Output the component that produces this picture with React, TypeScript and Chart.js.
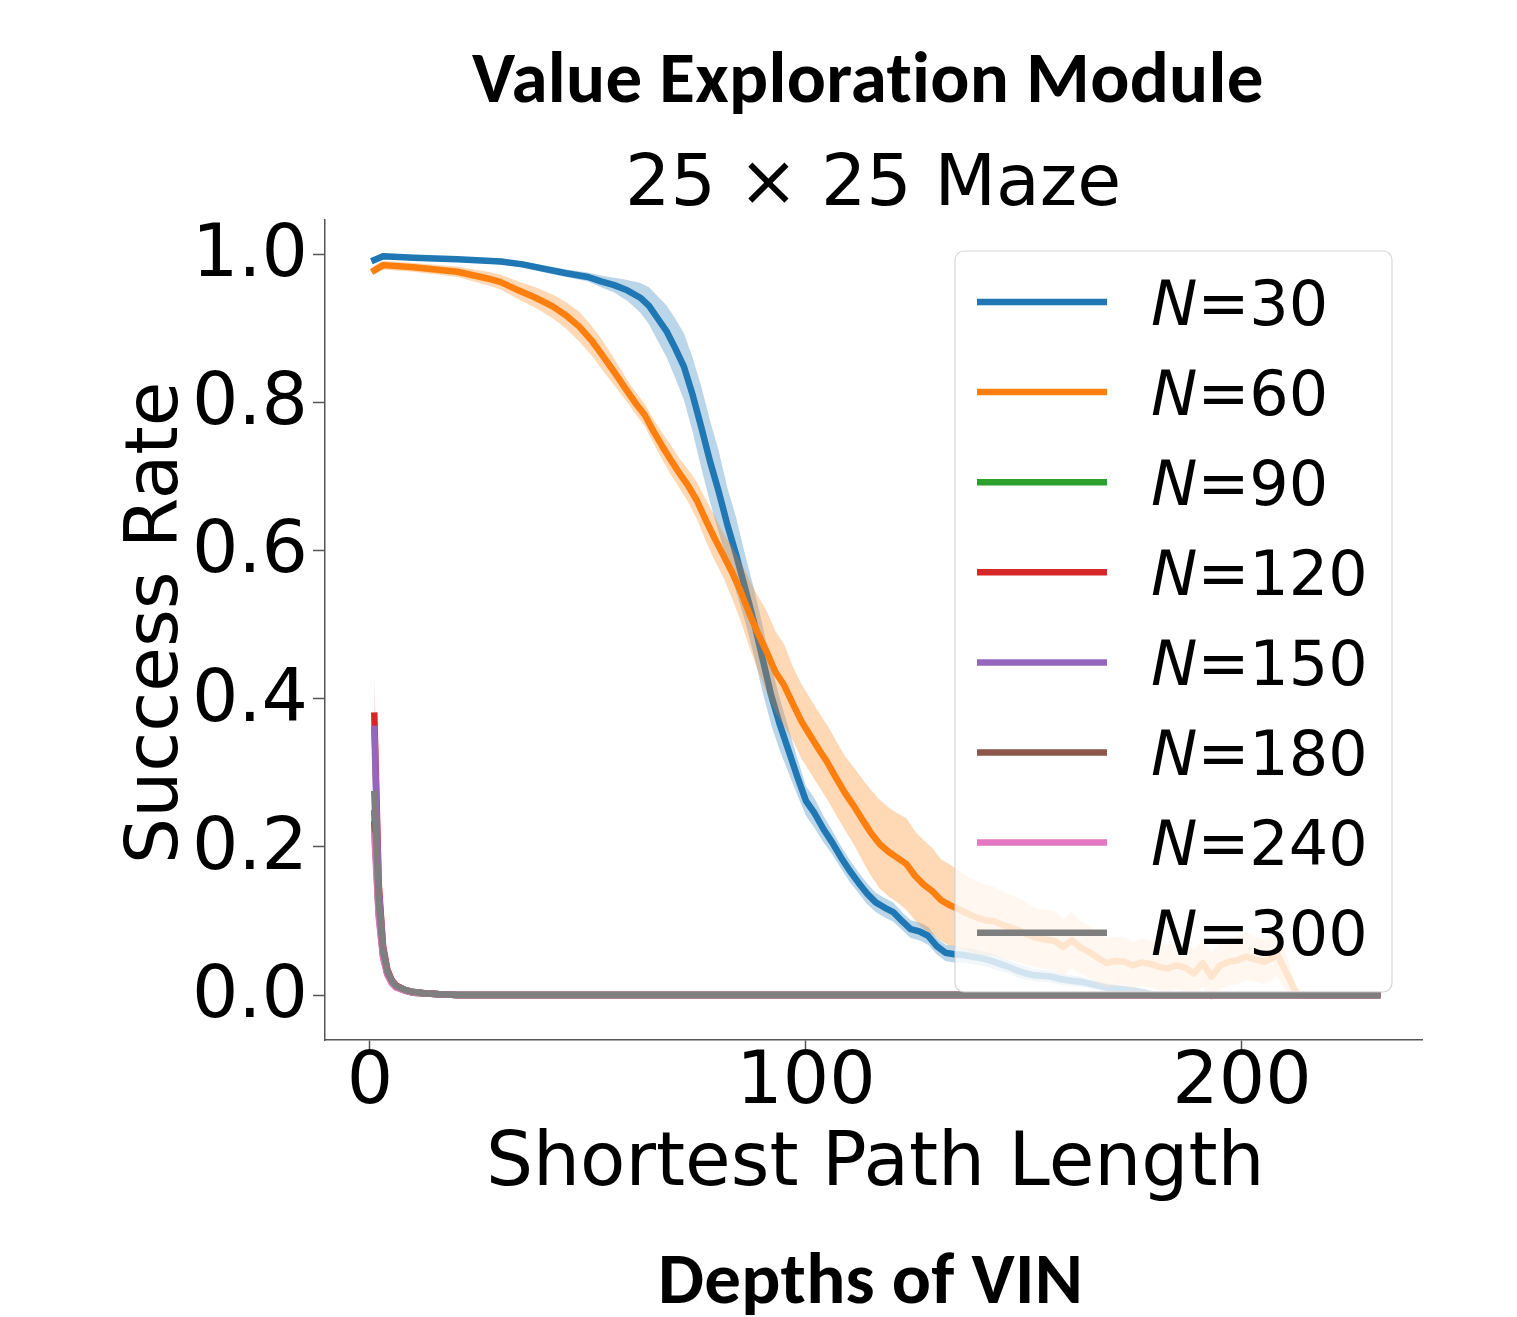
import React, { useEffect, useRef } from "react";
import { Chart, registerables } from "chart.js";

Chart.register(...registerables);

const W = 1517;
const H = 1317;

// axis ranges & ticks
const X_MIN = -10.32;
const X_MAX = 241.3;
const Y_MIN = -0.0607;
const Y_MAX = 1.0459;
const xTickValues = [0, 100, 200];
const yTickValues = [0, 0.2, 0.4, 0.6, 0.8, 1.0];

// texts
const mainTitle = "Value Exploration Module";
const subTitle = "25 \u00d7 25 Maze";
const xLabel = "Shortest Path Length";
const yLabel = "Success Rate";
const bottomTitle = "Depths of VIN";

// series
const seriesNames = ["30", "60", "90", "120", "150", "180", "240", "300"];
const seriesColors = ["#1f77b4", "#ff7f0e", "#2ca02c", "#d62728", "#9467bd", "#8c564b", "#e377c2", "#7f7f7f"];

// N=30
const blueX = [1, 3, 10, 20, 30, 35, 40, 45, 50, 53, 56, 59, 62,
  64, 66, 68, 70, 72, 74, 76, 78, 80, 82, 84, 86, 88, 90, 92, 94, 96, 98, 100,
  102, 104, 106, 108, 110, 112, 114, 116, 118, 120, 122, 124, 126, 128, 130, 132, 134, 136, 138, 140,
  142, 144, 146, 148, 150, 152, 154, 156, 158, 160,
  163, 166, 169, 172, 175, 178, 180, 231];
const blueMean = [0.992, 0.997, 0.995, 0.993, 0.990, 0.986, 0.980, 0.974, 0.969, 0.963, 0.958, 0.951, 0.941,
  0.930, 0.913, 0.896, 0.873, 0.848, 0.810, 0.766, 0.720, 0.679, 0.634, 0.594, 0.550, 0.505, 0.455, 0.405, 0.365, 0.330, 0.295, 0.262,
  0.245, 0.224, 0.206, 0.186, 0.168, 0.152, 0.137, 0.125, 0.118, 0.112, 0.100, 0.089, 0.086, 0.080, 0.066, 0.057, 0.055, 0.054, 0.052, 0.050,
  0.047, 0.043, 0.039, 0.034, 0.030, 0.027, 0.026, 0.025, 0.022, 0.020,
  0.018, 0.014, 0.010, 0.008, 0.006, 0.003, 0.000, 0.000];
const blueSpread = [0.004, 0.004, 0.003, 0.003, 0.004, 0.004, 0.005, 0.005, 0.006, 0.008, 0.010, 0.014, 0.020,
  0.025, 0.030, 0.035, 0.040, 0.045, 0.050, 0.055, 0.055, 0.055, 0.050, 0.050, 0.045, 0.045, 0.045, 0.040, 0.035, 0.030, 0.025, 0.020,
  0.020, 0.018, 0.016, 0.015, 0.015, 0.014, 0.014, 0.013, 0.013, 0.013, 0.012, 0.012, 0.012, 0.012, 0.011, 0.011, 0.011, 0.010, 0.010, 0.010,
  0.010, 0.010, 0.009, 0.009, 0.009, 0.008, 0.008, 0.008, 0.008, 0.007,
  0.007, 0.006, 0.006, 0.005, 0.004, 0.003, 0.000, 0.000];

// N=60
const orangeX = [1, 3, 10, 20, 27, 30, 34, 38, 42, 45, 48, 51, 53, 56, 59,
  61, 63, 65, 67, 69, 71, 73, 75, 77, 79,
  81, 83, 85, 87, 89, 91, 93, 95, 97, 99,
  101, 103, 105, 107, 109, 111, 113, 115, 117, 119,
  121, 123, 125, 127, 129, 131, 133, 135, 137, 139,
  141, 143, 145, 147, 149, 151, 153, 155, 157, 159,
  161, 163, 165, 167, 169, 171, 173, 175, 177, 179,
  181, 183, 185, 187, 189, 191, 193, 195, 197, 199,
  201, 203, 205, 207, 208, 210, 212, 213, 231];
const orangeMean = [0.978, 0.985, 0.982, 0.976, 0.967, 0.962, 0.951, 0.941, 0.929, 0.917, 0.902, 0.882, 0.866, 0.841, 0.815,
  0.798, 0.783, 0.761, 0.741, 0.722, 0.704, 0.687, 0.667, 0.641, 0.617,
  0.594, 0.571, 0.545, 0.515, 0.488, 0.463, 0.436, 0.418, 0.393, 0.369,
  0.350, 0.331, 0.313, 0.292, 0.272, 0.255, 0.236, 0.218, 0.203, 0.193,
  0.185, 0.177, 0.161, 0.149, 0.140, 0.128, 0.121, 0.116, 0.110, 0.105,
  0.101, 0.100, 0.095, 0.091, 0.087, 0.081, 0.077, 0.075, 0.073, 0.065,
  0.074, 0.064, 0.058, 0.050, 0.043, 0.046, 0.045, 0.040, 0.044, 0.042,
  0.038, 0.036, 0.040, 0.037, 0.029, 0.043, 0.025, 0.040, 0.045, 0.047,
  0.052, 0.048, 0.045, 0.050, 0.056, 0.032, 0.008, 0.000, 0.000];
const orangeSpread = [0.006, 0.006, 0.006, 0.007, 0.009, 0.010, 0.012, 0.014, 0.016, 0.018, 0.020, 0.020, 0.020, 0.018, 0.015,
  0.015, 0.015, 0.016, 0.018, 0.020, 0.020, 0.022, 0.025, 0.028, 0.030,
  0.030, 0.035, 0.040, 0.045, 0.050, 0.055, 0.055, 0.055, 0.050, 0.050,
  0.050, 0.050, 0.050, 0.050, 0.050, 0.052, 0.055, 0.058, 0.060, 0.060,
  0.060, 0.062, 0.060, 0.060, 0.058, 0.055, 0.055, 0.052, 0.050, 0.050,
  0.048, 0.046, 0.045, 0.044, 0.043, 0.042, 0.040, 0.040, 0.040, 0.038,
  0.038, 0.036, 0.035, 0.034, 0.034, 0.033, 0.033, 0.032, 0.032, 0.032,
  0.032, 0.032, 0.032, 0.032, 0.032, 0.032, 0.032, 0.032, 0.032, 0.032,
  0.032, 0.030, 0.030, 0.030, 0.030, 0.025, 0.012, 0.000, 0.000];

// N=90 .. N=300 (collapse almost immediately)
const shortX = [1, 2, 3, 4, 5, 6, 8, 10, 13, 16, 20, 231];
const greenMean = [0.245, 0.115, 0.055, 0.029, 0.018, 0.011, 0.006, 0.003, 0.002, 0.001, 0, 0];
const redMean = [0.377, 0.150, 0.066, 0.034, 0.020, 0.013, 0.007, 0.004, 0.002, 0.001, 0, 0];
const redSpread = [0.057, 0.030, 0.012, 0.005, 0.003, 0.002, 0.001, 0, 0, 0, 0, 0];
const purpleMean = [0.359, 0.142, 0.063, 0.032, 0.019, 0.012, 0.007, 0.004, 0.002, 0.001, 0, 0];
const brownMean = [0.230, 0.110, 0.052, 0.028, 0.017, 0.011, 0.006, 0.003, 0.002, 0.001, 0, 0];
const pinkMean = [0.215, 0.105, 0.050, 0.027, 0.016, 0.010, 0.006, 0.003, 0.002, 0.001, 0, 0];
const grayMean = [0.271, 0.125, 0.060, 0.031, 0.019, 0.012, 0.007, 0.004, 0.002, 0.001, 0, 0];

const pts = (xs: number[], ys: number[]) => xs.map((x, i) => ({ x, y: ys[i] }));
const edge = (xs: number[], ys: number[], sp: number[], sign: number) =>
  xs.map((x, i) => ({ x, y: ys[i] + sign * sp[i] }));

function hexA(hex: string, a: number) {
  const r = parseInt(hex.slice(1, 3), 16);
  const g = parseInt(hex.slice(3, 5), 16);
  const b = parseInt(hex.slice(5, 7), 16);
  return `rgba(${r},${g},${b},${a})`;
}

const LW = 6.5;

function lineDs(data: any, color: string) {
  return {
    data,
    borderColor: color,
    backgroundColor: color,
    borderWidth: LW,
    pointRadius: 0,
    fill: false,
    tension: 0,
    borderCapStyle: "square",
    borderJoinStyle: "round",
  };
}
function upperDs(data: any) {
  return { data, borderWidth: 0, borderColor: "rgba(0,0,0,0)", pointRadius: 0, fill: false, tension: 0 };
}
function lowerDs(data: any, color: string) {
  return {
    data,
    borderWidth: 0,
    borderColor: "rgba(0,0,0,0)",
    backgroundColor: hexA(color, 0.3),
    pointRadius: 0,
    fill: "-1",
    tension: 0,
  };
}

const DEJAVU = '"DejaVu Sans", sans-serif';
const BOLD_TITLE = (s: number) => `bold ${s}px Carlito, Lato, "Open Sans", sans-serif`;

function drawFitted(ctx: CanvasRenderingContext2D, text: string, fontFn: (s: number) => string,
  left: number, width: number, baseline: number) {
  ctx.font = fontFn(100);
  let m = ctx.measureText(text);
  const w = m.actualBoundingBoxLeft + m.actualBoundingBoxRight;
  const size = (100 * width) / w;
  ctx.font = fontFn(size);
  m = ctx.measureText(text);
  ctx.textAlign = "left";
  ctx.textBaseline = "alphabetic";
  ctx.fillText(text, left + m.actualBoundingBoxLeft, baseline);
}

const overlayPlugin = {
  id: "overlay",
  afterDraw(chart: any) {
    const ctx: any = chart.ctx;
    ctx.save();
    // legend box
    const bx = 955, by = 251, bw = 437, bh = 741, r = 9;
    ctx.beginPath();
    ctx.moveTo(bx + r, by);
    ctx.arcTo(bx + bw, by, bx + bw, by + bh, r);
    ctx.arcTo(bx + bw, by + bh, bx, by + bh, r);
    ctx.arcTo(bx, by + bh, bx, by, r);
    ctx.arcTo(bx, by, bx + bw, by, r);
    ctx.closePath();
    ctx.fillStyle = "rgba(255,255,255,0.8)";
    ctx.fill();
    ctx.strokeStyle = "rgba(204,204,204,0.8)";
    ctx.lineWidth = 1.2;
    ctx.stroke();

    const legFont = 62;
    seriesNames.forEach((name, i) => {
      const ly = 302 + 90.1 * i;
      ctx.strokeStyle = seriesColors[i];
      ctx.lineWidth = LW;
      ctx.lineCap = "butt";
      ctx.beginPath();
      ctx.moveTo(977, ly);
      ctx.lineTo(1107, ly);
      ctx.stroke();
      ctx.fillStyle = "#000";
      ctx.textAlign = "left";
      ctx.textBaseline = "alphabetic";
      const base = ly + 0.3645 * legFont;
      ctx.font = `italic ${legFont}px ${DEJAVU}`;
      ctx.fillText("N", 1151, base);
      const adv = ctx.measureText("N").width;
      ctx.font = `${legFont}px ${DEJAVU}`;
      ctx.fillText("=" + name, 1151 + adv, base);
    });

    ctx.fillStyle = "#000";
    // titles (letter spacing avoids the "ti" ligature)
    ctx.letterSpacing = "0.3px";
    drawFitted(ctx, mainTitle, BOLD_TITLE, 472, 788, 101.7);
    drawFitted(ctx, bottomTitle, BOLD_TITLE, 662, 416, 1303);
    ctx.letterSpacing = "0px";
    drawFitted(ctx, subTitle, (s) => `${s}px ${DEJAVU}`, 630, 488, 205);
    drawFitted(ctx, xLabel, (s) => `${s}px ${DEJAVU}`, 490, 768, 1185);

    // y label rotated
    ctx.save();
    ctx.translate(177, 860);
    ctx.rotate(-Math.PI / 2);
    drawFitted(ctx, yLabel, (s) => `${s}px ${DEJAVU}`, 0, 475, 0);
    ctx.restore();

    ctx.restore();
  },
};

export default function App() {
  const ref = useRef<HTMLCanvasElement | null>(null);
  useEffect(() => {
    if (!ref.current) return;
    const datasets: any[] = [
      upperDs(edge(blueX, blueMean, blueSpread, 1)),
      lowerDs(edge(blueX, blueMean, blueSpread, -1), seriesColors[0]),
      lineDs(pts(blueX, blueMean), seriesColors[0]),
      upperDs(edge(orangeX, orangeMean, orangeSpread, 1)),
      lowerDs(edge(orangeX, orangeMean, orangeSpread, -1), seriesColors[1]),
      lineDs(pts(orangeX, orangeMean), seriesColors[1]),
      lineDs(pts(shortX, greenMean), seriesColors[2]),
      upperDs(edge(shortX, redMean, redSpread, 1)),
      lowerDs(edge(shortX, redMean, redSpread, -1), seriesColors[3]),
      lineDs(pts(shortX, redMean), seriesColors[3]),
      lineDs(pts(shortX, purpleMean), seriesColors[4]),
      lineDs(pts(shortX, brownMean), seriesColors[5]),
      lineDs(pts(shortX, pinkMean), seriesColors[6]),
      lineDs(pts(shortX, grayMean), seriesColors[7]),
    ];
    datasets.forEach((d, i) => (d.order = 100 - i));

    const tickFont = { family: DEJAVU, size: 73, lineHeight: 1 };
    const chart = new Chart(ref.current, {
      type: "line",
      data: { datasets },
      options: {
        responsive: false,
        animation: false,
        devicePixelRatio: 1,
        events: [],
        layout: { padding: { left: 0, right: W - 1422, top: 220, bottom: 0 } },
        plugins: { legend: { display: false }, title: { display: false }, tooltip: { enabled: false } },
        scales: {
          x: {
            type: "linear",
            min: X_MIN,
            max: X_MAX,
            afterBuildTicks: (s: any) => {
              s.ticks = xTickValues.map((v) => ({ value: v }));
            },
            afterFit: (s: any) => {
              s.height = H - 1040;
            },
            ticks: {
              autoSkip: false,
              maxRotation: 0,
              minRotation: 0,
              font: tickFont,
              color: "#000",
              padding: -4,
              callback: (v: any) => String(v),
            },
            grid: { display: true, drawOnChartArea: false, drawTicks: true, tickLength: 12, tickWidth: 1.5, tickColor: "#555" },
            border: { display: true, color: "#555", width: 1.5 },
          },
          y: {
            type: "linear",
            min: Y_MIN,
            max: Y_MAX,
            afterBuildTicks: (s: any) => {
              s.ticks = yTickValues.map((v) => ({ value: v }));
            },
            afterFit: (s: any) => {
              s.width = 325;
            },
            ticks: {
              autoSkip: false,
              font: tickFont,
              color: "#000",
              padding: 5,
              labelOffset: 3,
              callback: (v: any) => Number(v).toFixed(1),
            },
            grid: { display: true, drawOnChartArea: false, drawTicks: true, tickLength: 12, tickWidth: 1.5, tickColor: "#555" },
            border: { display: true, color: "#555", width: 1.5 },
          },
        },
      } as any,
      plugins: [overlayPlugin],
    });
    return () => chart.destroy();
  }, []);

  return (
    <div style={{ position: "absolute", left: 0, top: 0, width: W, height: H, background: "#fff" }}>
      <canvas ref={ref} width={W} height={H} style={{ display: "block" }} />
    </div>
  );
}
